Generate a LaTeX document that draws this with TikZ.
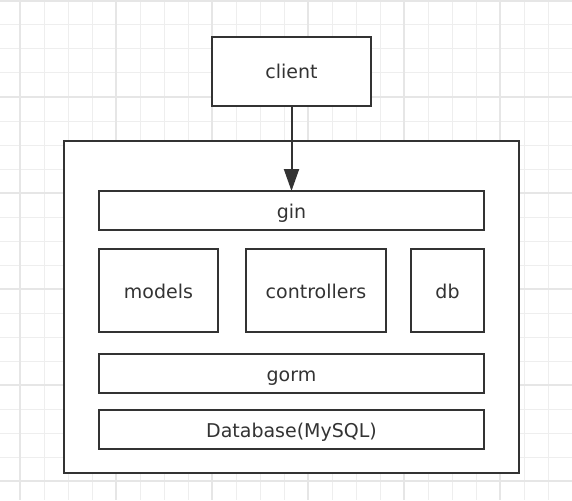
\documentclass[tikz,border=0pt]{standalone}
\usepackage{fontspec}
\setmainfont{DejaVu Sans}
\usetikzlibrary{arrows.meta}
\definecolor{ink}{HTML}{333333}
\definecolor{gridminor}{HTML}{EEEEEE}
\definecolor{gridmajor}{HTML}{E6E6E6}
\tikzset{
  box/.style={draw=ink, line width=2pt, fill=white, rectangle, inner sep=0pt, outer sep=0pt,
    font=\fontsize{19pt}{22pt}\selectfont, text=ink, text height=15pt, text depth=0pt},
  arr/.style={draw=ink, line width=2pt, -{Triangle[length=22pt, width=15pt]}},
}
\begin{document}
\begin{tikzpicture}[x=1pt, y=-1pt]
\useasboundingbox (0,0) rectangle (572,500);
\fill[white] (0,0) rectangle (572,500);
% grid
\foreach \k in {0,...,23} {
  \pgfmathsetmacro{\gx}{20+24*\k}
  \draw[gridminor, line width=1pt] (\gx,0) -- (\gx,500);
}
\foreach \k in {0,...,20} {
  \pgfmathsetmacro{\gy}{1+24*\k}
  \draw[gridminor, line width=1pt] (0,\gy) -- (572,\gy);
}
\foreach \k in {0,...,5} {
  \pgfmathsetmacro{\gx}{20+96*\k}
  \draw[gridmajor, line width=1.5pt] (\gx,0) -- (\gx,500);
  \pgfmathsetmacro{\gy}{1+96*\k}
  \draw[gridmajor, line width=1.5pt] (0,\gy) -- (572,\gy);
}
% boxes
\node[box, minimum width=455pt, minimum height=332pt] (outer) at (291.5,307) {};
\node[box, minimum width=159pt, minimum height=69pt] (client) at (291.5,71.5) {client};
\node[box, minimum width=385pt, minimum height=39pt] (gin) at (291.5,210.5) {gin};
\node[box, minimum width=119pt, minimum height=83pt] (models) at (158.5,290.5) {models};
\node[box, minimum width=140pt, minimum height=83pt] (controllers) at (316,290.5) {controllers};
\node[box, minimum width=73pt, minimum height=83pt] (db) at (447.5,290.5) {db};
\node[box, minimum width=385pt, minimum height=39pt] (gorm) at (291.5,373.5) {gorm};
\node[box, minimum width=385pt, minimum height=39pt] (database) at (291.5,429.5) {Database(MySQL)};
% connector
\draw[arr] (client) -- (gin);
\end{tikzpicture}
\end{document}
